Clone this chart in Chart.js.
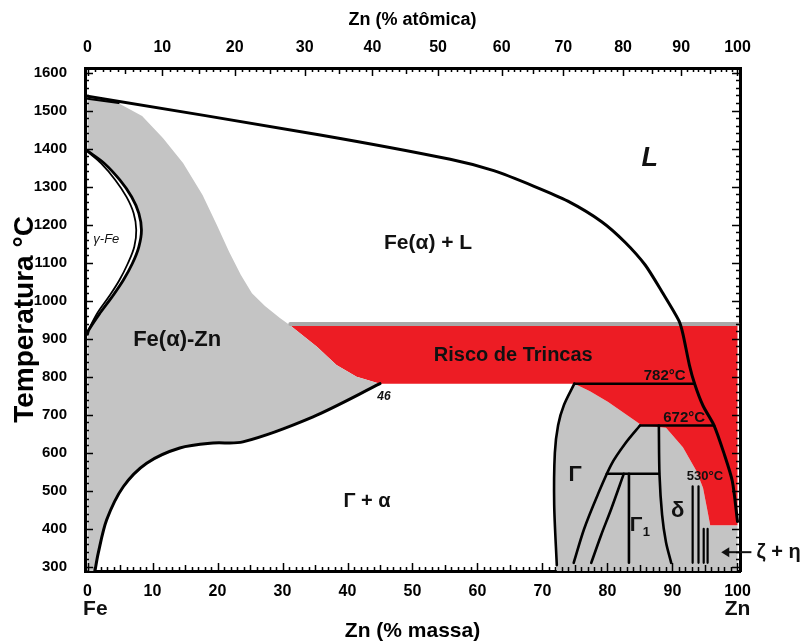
<!DOCTYPE html>
<html>
<head>
<meta charset="utf-8">
<title>Diagrama Fe-Zn</title>
<script src="https://cdn.jsdelivr.net/npm/chart.js@4.4.0/dist/chart.umd.min.js"></script>
<style>
  html, body { margin: 0; padding: 0; background: #fff; }
</style>
</head>
<body>
<canvas id="diagram" width="801" height="642"></canvas>
<script>
"use strict";

// eixos
var massTicks = [0, 10, 20, 30, 40, 50, 60, 70, 80, 90, 100];
var atomicTicks = [0, 10, 20, 30, 40, 50, 60, 70, 80, 90, 100];
var tempTicks = [300, 400, 500, 600, 700, 800, 900, 1000, 1100, 1200, 1300, 1400, 1500, 1600];

// liquidus
var liqX = [0, 35.8, 55.8, 62.5, 68.7, 73.9, 79.1, 82.7, 85.8, 88.4, 91.0, 91.6, 92.6, 93.4, 94.7, 96.4, 97.9, 99.2, 100];
var liqT = [1538, 1436, 1372, 1342, 1301, 1262, 1208, 1154, 1094, 1023, 947, 913, 831, 782, 724, 672, 600, 526, 420];

// solidus delta (curto, canto superior esquerdo)
var deltaX = [0, 4.8];
var deltaT = [1531, 1520];

// regiao Fe(alfa)-Zn
var alphaX = [0, 4.5, 8.4, 11.6, 14.7, 17.7, 19.9, 21.8, 23.6, 25.3, 27.3, 29.6, 31.2, 35.3, 38.3, 41.4, 45,
              34.7, 23.9, 19.3, 14.2, 9.1, 5.5, 2.95, 1.66, 1.1, 0];
var alphaT = [1533, 1522, 1486, 1428, 1362, 1278, 1199, 1128, 1068, 1020, 986, 955, 935, 879, 831, 800, 782,
              695, 629, 626, 613, 573, 511, 424, 337, 285, 285];

// limite inferior alfa / (Gamma + alfa)
var lowX = [45, 34.7, 23.9, 19.3, 14.2, 9.1, 5.5, 2.95, 1.66, 1.1];
var lowT = [782, 695, 629, 626, 613, 573, 511, 424, 337, 285];

// laco gama
var gOutX = [0, 2.6, 5.0, 6.8, 7.9, 8.3, 7.9, 6.9, 5.5, 3.8, 1.9, 0.2, 0];
var gOutT = [1394, 1361, 1317, 1273, 1230, 1186, 1142, 1098, 1054, 1011, 967, 923, 912];
var gInX = [0, 2.1, 4.3, 6.0, 7.1, 7.5, 7.2, 6.2, 4.9, 3.3, 1.5, 0];
var gInT = [1392, 1361, 1317, 1273, 1230, 1186, 1142, 1098, 1054, 1011, 967, 918];

// risco de trincas
var redX = [31.2, 100, 100, 95.8, 95.3, 94.7, 93.7, 91.6, 89.0, 85.3, 83.2, 80.1, 77.3, 74.9, 45, 41.4, 38.3, 35.3, 31.2];
var redT = [935, 935, 410, 410, 455, 508, 552, 615, 666, 672, 697, 734, 762, 782, 782, 800, 831, 879, 935];
var capX = [31.2, 100];
var capT = [939, 939];

// fases intermetalicas (Gamma, Gamma1, delta, zeta + eta)
var interX = [74.9, 77.3, 80.1, 83.2, 85.3, 89.0, 91.6, 93.7, 94.7, 95.3, 95.8, 100, 100, 72.2, 71.8, 71.9, 72.4, 73.3, 74.9];
var interT = [782, 762, 734, 697, 672, 666, 615, 552, 508, 455, 410, 410, 285, 285, 463, 600, 673, 726, 782];

var gamLeftX = [74.9, 73.3, 72.4, 71.9, 71.8, 72.2];
var gamLeftT = [782, 726, 673, 600, 463, 305];
var iso782X = [74.9, 93.4];
var iso782T = [782, 782];
var iso672X = [85.0, 96.4];
var iso672T = [672, 672];
var iso545X = [79.9, 87.9];
var iso545T = [545, 545];
var curveAX = [85.0, 82.7, 80.6, 78.5, 76.4, 74.8];
var curveAT = [672, 624, 570, 490, 400, 311];
var curveBX = [82.5, 80.6, 79.0, 77.5];
var curveBT = [545, 454, 383, 311];
var lineCX = [83.3, 83.3];
var lineCT = [545, 311];
var lineDX = [87.9, 88.0, 88.4, 89.0, 89.8];
var lineDT = [672, 543, 437, 365, 311];
var zeta1X = [93.1, 93.1];
var zeta1T = [512, 311];
var zeta2X = [94.0, 94.0];
var zeta2T = [512, 311];
var zeta3X = [94.8, 94.8];
var zeta3T = [400, 311];
var zeta4X = [95.4, 95.4];
var zeta4T = [400, 311];

var X_MIN = -0.385, X_MAX = 100.385;
var Y_MIN = 289.5, Y_MAX = 1612;

var NARROW = "'Liberation Sans Narrow', 'Liberation Sans', Arial, sans-serif";
var SANS = "'Liberation Sans', Arial, sans-serif";

function atToWt(a) {
    return 100 * a * 65.38 / (a * 65.38 + (100 - a) * 55.845);
}

function pts(xs, ts) {
    return xs.map(function (v, i) { return { x: v, y: ts[i] }; });
}

function area(xs, ts, color, order) {
    return {
        data: pts(xs, ts), fill: 'shape', backgroundColor: color,
        borderColor: 'rgba(0,0,0,0)', borderWidth: 0, pointRadius: 0, tension: 0, order: order
    };
}

function curve(xs, ts, width, tension, color) {
    return {
        data: pts(xs, ts), fill: false, borderColor: color || '#000',
        borderWidth: width, pointRadius: 0, tension: tension, order: 1,
        borderCapStyle: 'round', borderJoinStyle: 'round'
    };
}

var datasets = [
    curve(liqX, liqT, 3, 0.25),
    curve(deltaX, deltaT, 2, 0),
    curve(lowX, lowT, 3, 0.3),
    curve(gOutX, gOutT, 2.8, 0.35),
    curve(gInX, gInT, 1.8, 0.35),
    curve(gamLeftX, gamLeftT, 2.6, 0.3),
    curve(iso782X, iso782T, 2.5, 0),
    curve(iso672X, iso672T, 2.5, 0),
    curve(iso545X, iso545T, 2.5, 0),
    curve(curveAX, curveAT, 2.6, 0.3),
    curve(curveBX, curveBT, 2.6, 0.3),
    curve(lineCX, lineCT, 2.6, 0),
    curve(lineDX, lineDT, 2.6, 0.3),
    curve(zeta1X, zeta1T, 2.2, 0),
    curve(zeta2X, zeta2T, 2.2, 0),
    curve(zeta3X, zeta3T, 2.2, 0),
    curve(zeta4X, zeta4T, 2.2, 0),
    curve(capX, capT, 4, 0, '#a9a9a9'),
    area(gOutX, gOutT, '#ffffff', 5),
    area(alphaX, alphaT, '#c4c4c4', 10),
    area(redX, redT, '#ed1c24', 10),
    area(interX, interT, '#c4c4c4', 10)
];

// textos das regioes (coordenadas de dados)
var regionLabels = [
    { text: 'L', x: 86.5, y: 1375, font: 'italic bold 27px ' + SANS },
    { text: 'Fe(\u03b1) + L', x: 52.4, y: 1152, font: 'bold 21px ' + SANS },
    { text: 'Fe(\u03b1)-Zn', x: 13.8, y: 897, font: 'bold 22px ' + SANS },
    { text: 'Risco de Trincas', x: 65.5, y: 857, font: 'bold 20px ' + SANS },
    { text: '782\u00b0C', x: 88.8, y: 803, font: 'bold 15px ' + SANS },
    { text: '672\u00b0C', x: 91.8, y: 693, font: 'bold 15px ' + SANS },
    { text: '530\u00b0C', x: 95.0, y: 537, font: 'bold 13px ' + SANS },
    { text: '\u0393', x: 75.0, y: 542, font: 'bold 22px ' + SANS },
    { text: '\u0393', x: 84.4, y: 410, font: 'bold 21px ' + SANS, sub: '1' },
    { text: '\u03b4', x: 90.8, y: 447, font: 'bold 22px ' + SANS },
    { text: '\u0393 + \u03b1', x: 43.0, y: 473, font: 'bold 20px ' + SANS },
    { text: '46', x: 45.6, y: 747, font: 'italic bold 12px ' + SANS },
    { text: '\u03b3-Fe', x: 2.9, y: 1162, font: 'italic 13px ' + SANS },
    { text: 'Fe', x: 1.2, y: 190, font: 'bold 21px ' + NARROW },
    { text: 'Zn', x: 100.0, y: 190, font: 'bold 21px ' + NARROW }
];

var labelPlugin = {
    id: 'regionLabels',
    afterDatasetsDraw: function (chart) {
        var ctx = chart.ctx, sx = chart.scales.x, sy = chart.scales.y;
        ctx.save();
        ctx.fillStyle = '#111';
        ctx.textAlign = 'center';
        ctx.textBaseline = 'middle';
        regionLabels.forEach(function (l) {
            var px = sx.getPixelForValue(l.x), py = sy.getPixelForValue(l.y);
            ctx.font = l.font;
            ctx.fillText(l.text, px, py);
            if (l.sub) {
                var w = ctx.measureText(l.text).width;
                ctx.font = 'bold 13px ' + SANS;
                ctx.fillText(l.sub, px + w / 2 + 4, py + 7);
            }
        });
        // zeta + eta com seta
        var ay = sy.getPixelForValue(339);
        var ax0 = sx.getPixelForValue(100.6), ax1 = sx.getPixelForValue(97.5);
        ctx.strokeStyle = '#111';
        ctx.lineWidth = 2;
        ctx.beginPath();
        ctx.moveTo(ax0 + 10, ay);
        ctx.lineTo(ax1 + 4, ay);
        ctx.stroke();
        ctx.beginPath();
        ctx.moveTo(ax1, ay);
        ctx.lineTo(ax1 + 8, ay - 5);
        ctx.lineTo(ax1 + 8, ay + 5);
        ctx.closePath();
        ctx.fill();
        ctx.font = 'bold 20px ' + SANS;
        ctx.textAlign = 'left';
        ctx.fillText('\u03b6 + \u03b7', ax0 + 15, ay);
        ctx.restore();
    }
};

// marcas de escala para dentro do quadro
var frameTicks = {
    id: 'frameTicks',
    afterDatasetsDraw: function (chart) {
        var ctx = chart.ctx, a = chart.chartArea, sx = chart.scales.x, sy = chart.scales.y;
        ctx.save();
        ctx.strokeStyle = '#000';
        ctx.lineWidth = 1.5;
        ctx.beginPath();
        for (var m = 0; m <= 100; m++) {
            var px = Math.round(sx.getPixelForValue(m)) + 0.5;
            var len = m % 10 === 0 ? 8 : (m % 5 === 0 ? 6 : 4);
            ctx.moveTo(px, a.bottom);
            ctx.lineTo(px, a.bottom - len);
            var pt = Math.round(sx.getPixelForValue(atToWt(m))) + 0.5;
            var lt = m % 10 === 0 ? 8 : (m % 5 === 0 ? 6 : 4);
            ctx.moveTo(pt, a.top);
            ctx.lineTo(pt, a.top + lt);
        }
        for (var t = 300; t <= 1600; t += 20) {
            var py = Math.round(sy.getPixelForValue(t)) + 0.5;
            var ly = t % 100 === 0 ? 8 : 4;
            ctx.moveTo(a.left, py);
            ctx.lineTo(a.left + ly, py);
            ctx.moveTo(a.right, py);
            ctx.lineTo(a.right - ly, py);
        }
        ctx.stroke();
        ctx.restore();
    }
};

var tickFont = { family: NARROW, size: 16, weight: 'bold' };

var config = {
    type: 'line',
    data: { datasets: datasets },
    options: {
        responsive: false,
        animation: false,
        events: [],
        layout: { padding: { left: 0, right: 61, top: 0, bottom: 0 } },
        plugins: {
            legend: { display: false },
            tooltip: { enabled: false }
        },
        scales: {
            x: {
                type: 'linear', position: 'bottom', min: X_MIN, max: X_MAX,
                afterFit: function (s) { s.height = 71; },
                afterBuildTicks: function (s) { s.ticks = massTicks.map(function (v) { return { value: v }; }); },
                grid: { display: false },
                border: { display: true, width: 3, color: '#000' },
                ticks: {
                    autoSkip: false, maxRotation: 0, padding: 3, color: '#000', font: tickFont,
                    callback: function (v) { return String(v); }
                },
                title: {
                    display: true, text: 'Zn (% massa)', color: '#000',
                    padding: { top: 0, bottom: 0 },
                    font: { family: NARROW, size: 21, weight: 'bold', lineHeight: 1 }
                }
            },
            xTop: {
                type: 'linear', position: 'top', min: X_MIN, max: X_MAX,
                afterFit: function (s) { s.height = 68; },
                afterBuildTicks: function (s) { s.ticks = atomicTicks.map(function (a) { return { value: atToWt(a) }; }); },
                grid: { display: false },
                border: { display: true, width: 3, color: '#000' },
                ticks: {
                    autoSkip: false, maxRotation: 0, padding: 3, color: '#000', font: tickFont,
                    callback: function (v, i) { return String(atomicTicks[i]); }
                },
                title: {
                    display: true, text: 'Zn (% at\u00f4mica)', color: '#000',
                    padding: { top: 11, bottom: 0 },
                    font: { family: NARROW, size: 18, weight: 'bold', lineHeight: 1 }
                }
            },
            y: {
                type: 'linear', position: 'left', min: Y_MIN, max: Y_MAX,
                afterFit: function (s) { s.width = 85; },
                afterBuildTicks: function (s) { s.ticks = tempTicks.map(function (v) { return { value: v }; }); },
                grid: { display: false },
                border: { display: true, width: 3, color: '#000' },
                ticks: {
                    autoSkip: false, padding: 10, color: '#000',
                    font: { family: SANS, size: 15, weight: 'bold' },
                    callback: function (v) { return String(v); }
                },
                title: {
                    display: true, text: 'Temperatura \u00b0C', color: '#000',
                    padding: { top: 11, bottom: 0 },
                    font: { family: SANS, size: 28, weight: 'bold', lineHeight: 1 }
                }
            },
            yRight: {
                type: 'linear', position: 'right', min: Y_MIN, max: Y_MAX,
                afterFit: function (s) { s.width = 0; },
                grid: { display: false },
                border: { display: true, width: 3, color: '#000' },
                ticks: { display: false }
            }
        }
    },
    plugins: [labelPlugin, frameTicks]
};

var chartCanvas = document.getElementById('diagram').getContext('2d');
window.diagram = new Chart(chartCanvas, config);
</script>
</body>
</html>
